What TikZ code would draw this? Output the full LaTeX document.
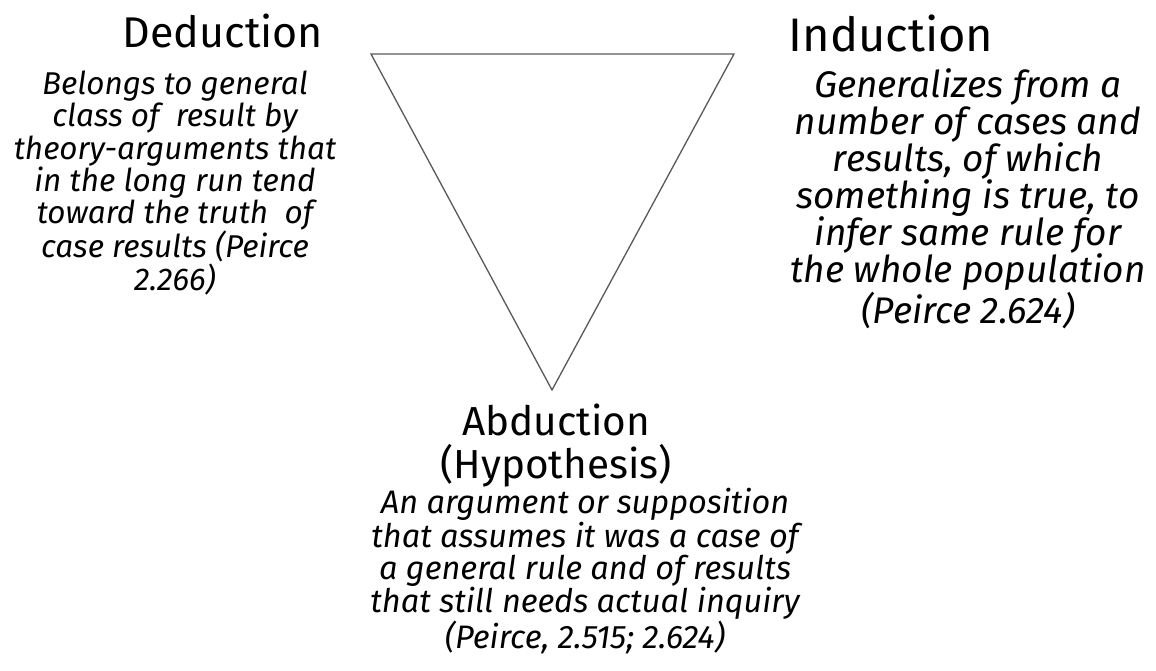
\documentclass[tikz,border=0pt]{standalone}
\usepackage{fontspec}
\setmainfont{Fira Sans}
\begin{document}
\begin{tikzpicture}[x=1pt,y=-1pt,
  title/.style={anchor=base,inner sep=0pt,align=center,text=black},
  body/.style={anchor=base,inner sep=0pt,align=center,text=black},
  tri/.style={draw=black!65,line width=1.3pt,line join=miter}]
\useasboundingbox (0,0) rectangle (1156,671);
\fill[white] (0,0) rectangle (1156,671);
% triangle
\coordinate (tl) at (371,54);
\coordinate (tr) at (734,54);
\coordinate (bt) at (552,390);
\draw[tri] (tl) -- (tr) -- (bt) -- cycle;
% Deduction
\node[title,font=\fontsize{43}{48}\selectfont] (dedT) at (223,48) {Deduction};
\node[body,font=\fontsize{31.5}{32.2}\selectfont\itshape] (dedB) at (175,290)
  {Belongs to general\\class of~ result by\\theory-arguments that\\in the long run tend\\toward the truth~ of\\case results (Peirce\\2.266)};
% Induction
\node[title,font=\fontsize{47}{54}\selectfont] (indT) at (891,52) {Induction};
\node[body,font=\fontsize{37}{36.8}\selectfont\itshape] (indB) at (968,323)
  {Generalizes from a\\number of cases and\\results, of which\\something is true, to\\infer same rule for\\the whole population\\(Peirce 2.624)};
% Abduction
\node[title,font=\fontsize{40.5}{43}\selectfont] (abdT) at (556,478) {Abduction\\(Hypothesis)};
\node[body,font=\fontsize{32.5}{32}\selectfont\itshape] (abdB) at (585,648)
  {An argument or supposition\\that assumes it was a case of\\a general rule and of results\\that still needs actual inquiry\\(Peirce, 2.515; 2.624)};
\end{tikzpicture}
\end{document}
